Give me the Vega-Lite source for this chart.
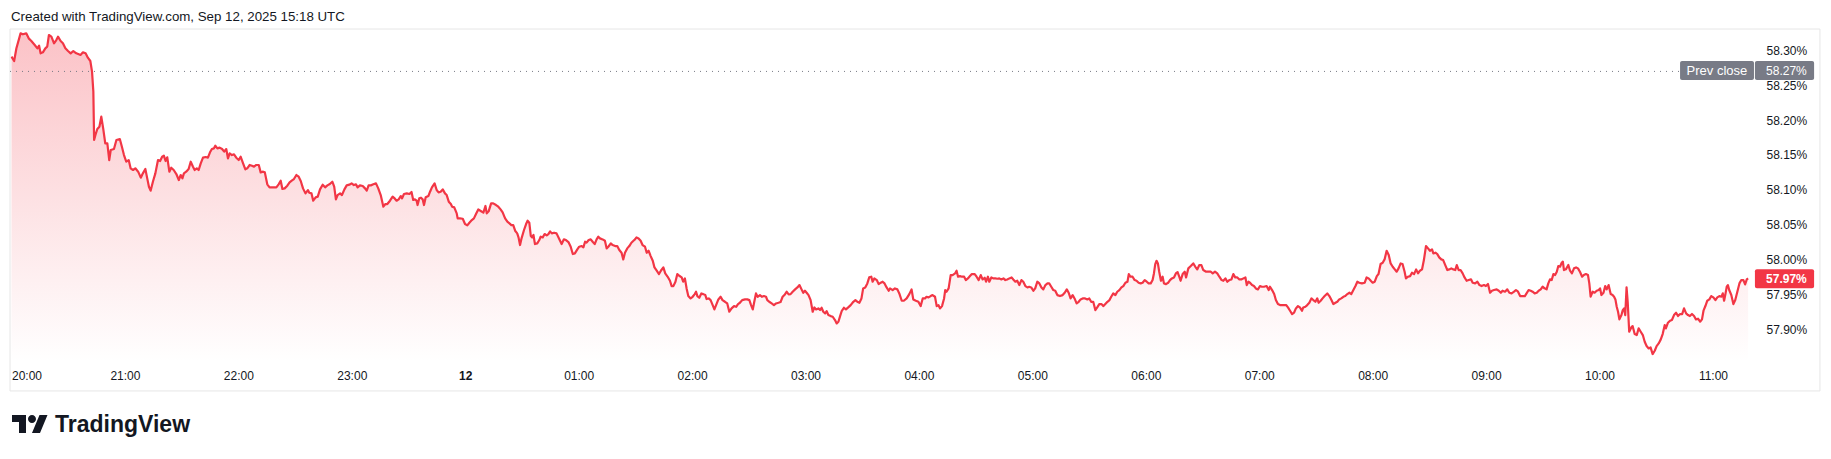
{
  "$schema": "https://vega.github.io/schema/vega-lite/v6.json",
  "width": 1745,
  "height": 332,
  "autosize": "none",
  "padding": {"left": 10, "top": 30, "right": 76, "bottom": 97},
  "background": "white",
  "config": {"view": {"stroke": null}, "font": "Liberation Sans"},
  "data": {"values": [
{"t":0,"v":58.2912},{"t":1.4,"v":58.285},{"t":2.6,"v":58.3032},{"t":4.8,"v":58.3247},{"t":6,"v":58.3233},{"t":7.8,"v":58.3247},{"t":9.1,"v":58.3175},{"t":10.5,"v":58.3137},{"t":12.3,"v":58.308},{"t":13.7,"v":58.3032},{"t":14.6,"v":58.307},{"t":15.4,"v":58.296},{"t":16.6,"v":58.2974},{"t":17.9,"v":58.3032},{"t":18.9,"v":58.3056},{"t":19.8,"v":58.3223},{"t":21.1,"v":58.3199},{"t":22.5,"v":58.3104},{"t":23.7,"v":58.3151},{"t":24.6,"v":58.3199},{"t":26,"v":58.3137},{"t":27.2,"v":58.3104},{"t":28.5,"v":58.3032},{"t":29.9,"v":58.2993},{"t":31.3,"v":58.296},{"t":32.7,"v":58.2993},{"t":34.3,"v":58.296},{"t":35.6,"v":58.2946},{"t":36.5,"v":58.2936},{"t":37.8,"v":58.2974},{"t":39.2,"v":58.296},{"t":40.4,"v":58.2898},{"t":41.7,"v":58.285},{"t":42.6,"v":58.2697},{"t":43.3,"v":58.2409},{"t":43.7,"v":58.1715},{"t":44.4,"v":58.1787},{"t":45.4,"v":58.1873},{"t":46.5,"v":58.1906},{"t":47.5,"v":58.205},{"t":48.5,"v":58.1882},{"t":49.6,"v":58.1667},{"t":50.7,"v":58.1667},{"t":51.7,"v":58.1427},{"t":52.5,"v":58.1571},{"t":54.2,"v":58.1585},{"t":55.5,"v":58.1715},{"t":57.3,"v":58.1729},{"t":58.4,"v":58.1619},{"t":59.5,"v":58.1499},{"t":60.7,"v":58.1403},{"t":62,"v":58.1427},{"t":63,"v":58.1308},{"t":64.3,"v":58.1284},{"t":65.5,"v":58.1308},{"t":67,"v":58.126},{"t":68.4,"v":58.1174},{"t":69.5,"v":58.1236},{"t":70.8,"v":58.1298},{"t":71.8,"v":58.1164},{"t":72.7,"v":58.1044},{"t":73.6,"v":58.0987},{"t":74.8,"v":58.1116},{"t":76.1,"v":58.1236},{"t":77.5,"v":58.1427},{"t":78.6,"v":58.1413},{"t":79.7,"v":58.1475},{"t":80.6,"v":58.149},{"t":81.5,"v":58.1413},{"t":82.4,"v":58.1466},{"t":83.5,"v":58.126},{"t":84.5,"v":58.1317},{"t":85.8,"v":58.1284},{"t":87.2,"v":58.1226},{"t":88.5,"v":58.114},{"t":89.5,"v":58.1212},{"t":90.4,"v":58.1164},{"t":91.2,"v":58.1236},{"t":92.4,"v":58.126},{"t":93.7,"v":58.1298},{"t":94.8,"v":58.1403},{"t":96,"v":58.1331},{"t":96.9,"v":58.1284},{"t":98,"v":58.1308},{"t":99,"v":58.1284},{"t":100.1,"v":58.1379},{"t":101.3,"v":58.1461},{"t":102.7,"v":58.147},{"t":103.9,"v":58.1461},{"t":105,"v":58.1538},{"t":106,"v":58.1585},{"t":107.1,"v":58.1595},{"t":107.8,"v":58.1633},{"t":108.9,"v":58.1595},{"t":110.1,"v":58.1605},{"t":111.4,"v":58.1585},{"t":112.5,"v":58.1547},{"t":113.6,"v":58.1585},{"t":114.5,"v":58.1451},{"t":115.4,"v":58.1523},{"t":116.6,"v":58.1499},{"t":117.7,"v":58.1509},{"t":118.9,"v":58.1461},{"t":120.2,"v":58.1427},{"t":121.2,"v":58.1475},{"t":122.5,"v":58.1379},{"t":123.7,"v":58.1293},{"t":124.7,"v":58.1308},{"t":126,"v":58.1356},{"t":127.2,"v":58.1346},{"t":128.3,"v":58.1332},{"t":129.5,"v":58.1356},{"t":130.8,"v":58.1356},{"t":131.8,"v":58.125},{"t":133.1,"v":58.126},{"t":134,"v":58.125},{"t":135.3,"v":58.1078},{"t":136.5,"v":58.1035},{"t":138.3,"v":58.1035},{"t":140.1,"v":58.1035},{"t":141.3,"v":58.1078},{"t":142.4,"v":58.113},{"t":143.3,"v":58.1011},{"t":144.5,"v":58.102},{"t":145.9,"v":58.1059},{"t":147.1,"v":58.1107},{"t":148.4,"v":58.1135},{"t":149.4,"v":58.1154},{"t":150.7,"v":58.1212},{"t":151.9,"v":58.1188},{"t":153,"v":58.1126},{"t":154.2,"v":58.102},{"t":155.5,"v":58.0948},{"t":156.8,"v":58.0996},
{"t":157.5,"v":58.0958},{"t":158.7,"v":58.0948},{"t":159.6,"v":58.0843},{"t":160.9,"v":58.0891},{"t":162,"v":58.0901},{"t":163.2,"v":58.1006},{"t":164.6,"v":58.1073},{"t":165.9,"v":58.1035},{"t":167.1,"v":58.1063},{"t":168.4,"v":58.1083},{"t":169.7,"v":58.1116},{"t":170.7,"v":58.1044},{"t":171.6,"v":58.0862},{"t":172.5,"v":58.0924},{"t":173.8,"v":58.0948},{"t":174.8,"v":58.0924},{"t":176.1,"v":58.1006},{"t":177.3,"v":58.1063},{"t":178.7,"v":58.1073},{"t":179.9,"v":58.1092},{"t":181.1,"v":58.1068},{"t":182.2,"v":58.1078},{"t":183.1,"v":58.1035},{"t":184.3,"v":58.1063},{"t":185.8,"v":58.1054},{"t":187,"v":58.102},{"t":187.9,"v":58.0987},{"t":188.9,"v":58.1063},{"t":190.1,"v":58.1063},{"t":191.4,"v":58.1078},{"t":192.8,"v":58.1092},{"t":194,"v":58.102},{"t":195.3,"v":58.0924},{"t":196.7,"v":58.0757},{"t":197.8,"v":58.0795},{"t":198.8,"v":58.0795},{"t":200.2,"v":58.0843},{"t":201.6,"v":58.0901},{"t":202.8,"v":58.0872},{"t":203.7,"v":58.0843},{"t":204.8,"v":58.0862},{"t":205.9,"v":58.091},{"t":206.6,"v":58.0877},{"t":207.6,"v":58.0939},{"t":209.1,"v":58.0948},{"t":210.5,"v":58.0939},{"t":211.6,"v":58.0968},{"t":212.5,"v":58.0853},{"t":213.4,"v":58.0862},{"t":214.3,"v":58.0843},{"t":214.8,"v":58.0781},{"t":215.7,"v":58.0877},{"t":216.6,"v":58.0886},{"t":217.5,"v":58.0862},{"t":218.2,"v":58.0781},{"t":219.1,"v":58.0891},{"t":220.5,"v":58.091},{"t":221.4,"v":58.0972},{"t":222.4,"v":58.1035},{"t":223.8,"v":58.1092},{"t":224.9,"v":58.0996},{"t":225.9,"v":58.0963},{"t":227,"v":58.0972},{"t":228.1,"v":58.1006},{"t":229.3,"v":58.0948},{"t":230.2,"v":58.0924},{"t":231.3,"v":58.0829},{"t":232.4,"v":58.0795},{"t":233.1,"v":58.0757},{"t":234.2,"v":58.0747},{"t":235.5,"v":58.0661},{"t":236,"v":58.0589},{"t":237.2,"v":58.0589},{"t":238.7,"v":58.0584},{"t":239.9,"v":58.0508},{"t":241.1,"v":58.0489},{"t":242.2,"v":58.0527},{"t":243.5,"v":58.0565},{"t":244.6,"v":58.0589},{"t":245.7,"v":58.0651},{"t":246.9,"v":58.0718},{"t":248.2,"v":58.0695},{"t":249.6,"v":58.0671},{"t":250.7,"v":58.0767},{"t":251.4,"v":58.0661},{"t":252.4,"v":58.069},{"t":253.7,"v":58.0805},{"t":254.8,"v":58.0805},{"t":256.3,"v":58.0781},{"t":257.5,"v":58.0757},{"t":258.7,"v":58.0718},{"t":259.8,"v":58.0675},{"t":261.1,"v":58.0589},{"t":262.3,"v":58.0541},{"t":263.4,"v":58.0517},{"t":264.4,"v":58.0493},{"t":265.4,"v":58.0493},{"t":266.5,"v":58.0407},{"t":267.5,"v":58.0374},{"t":268.2,"v":58.0316},{"t":269,"v":58.0206},{"t":269.8,"v":58.0302},{"t":271.1,"v":58.0422},{"t":272.2,"v":58.0508},{"t":273,"v":58.0556},{"t":273.9,"v":58.0527},{"t":274.7,"v":58.0335},{"t":275.4,"v":58.0316},{"t":276.1,"v":58.035},{"t":276.9,"v":58.022},{"t":278.1,"v":58.023},{"t":279.2,"v":58.0278},{"t":279.9,"v":58.0326},{"t":281,"v":58.0316},{"t":282,"v":58.0364},{"t":283.1,"v":58.0345},{"t":284,"v":58.0364},{"t":284.9,"v":58.0402},{"t":285.8,"v":58.0374},{"t":287,"v":58.0383},{"t":288.3,"v":58.0374},{"t":289.8,"v":58.0288},{"t":291,"v":58.022},{"t":292.2,"v":58.0288},{"t":293.3,"v":58.0278},{"t":294.6,"v":58.0249},{"t":295.8,"v":58.0182},{"t":296.9,"v":58.0077},{"t":298,"v":58.0086},{"t":299.3,"v":58.0144},{"t":300.3,"v":58.0182},{"t":301.6,"v":58.0192},{"t":302.5,"v":58.0173},{"t":303.4,"v":58.0254},{"t":304.2,"v":58.024},{"t":305.3,"v":58.0278},{"t":306.4,"v":58.0288},{"t":307.4,"v":58.0254},{"t":308.5,"v":58.022},{"t":309.5,"v":58.0288},{"t":310.4,"v":58.0326},{"t":311.3,"v":58.0302},
{"t":312.7,"v":58.0287},{"t":313.9,"v":58.0268},{"t":314.8,"v":58.0158},{"t":315.7,"v":58.0182},{"t":317,"v":58.0229},{"t":318,"v":58.0206},{"t":319.3,"v":58.0191},{"t":320.4,"v":58.0191},{"t":321.5,"v":58.0134},{"t":322.7,"v":58.0095},{"t":323.6,"v":57.9999},{"t":324.5,"v":58.0095},{"t":325.7,"v":58.0158},{"t":326.8,"v":58.0191},{"t":327.9,"v":58.0239},{"t":329,"v":58.0268},{"t":329.8,"v":58.0287},{"t":330.6,"v":58.0316},{"t":331.7,"v":58.0301},{"t":332.8,"v":58.0268},{"t":333.8,"v":58.0206},{"t":335.1,"v":58.0182},{"t":336,"v":58.0095},{"t":337,"v":58.0124},{"t":338.1,"v":58.0047},{"t":339.2,"v":57.998},{"t":340.1,"v":57.9885},{"t":341.3,"v":57.9837},{"t":342.5,"v":57.9789},{"t":343.5,"v":57.9837},{"t":344.8,"v":57.9885},{"t":345.8,"v":57.9798},{"t":347.1,"v":57.975},{"t":348.3,"v":57.9693},{"t":349.2,"v":57.9616},{"t":350.1,"v":57.9616},{"t":351.2,"v":57.9679},{"t":352.2,"v":57.9789},{"t":353.2,"v":57.9765},{"t":354.5,"v":57.9741},{"t":355.3,"v":57.9679},{"t":356.2,"v":57.9727},{"t":357.1,"v":57.9583},{"t":358,"v":57.9473},{"t":359.2,"v":57.9439},{"t":360.3,"v":57.9463},{"t":361.4,"v":57.9501},{"t":362.1,"v":57.9535},{"t":362.8,"v":57.9473},{"t":363.8,"v":57.9449},{"t":364.9,"v":57.9511},{"t":365.9,"v":57.9501},{"t":367,"v":57.9487},{"t":367.7,"v":57.943},{"t":368.8,"v":57.9439},{"t":369.8,"v":57.9415},{"t":370.9,"v":57.9343},{"t":371.8,"v":57.9281},{"t":372.7,"v":57.9343},{"t":373.9,"v":57.9425},{"t":375.1,"v":57.9463},{"t":376.1,"v":57.9415},{"t":377.4,"v":57.9391},{"t":378.6,"v":57.9367},{"t":379.7,"v":57.9248},{"t":380.9,"v":57.9296},{"t":382.2,"v":57.9329},{"t":383.3,"v":57.9319},{"t":384.3,"v":57.9358},{"t":385.3,"v":57.9377},{"t":386.5,"v":57.9415},{"t":388,"v":57.9425},{"t":389.2,"v":57.9425},{"t":390.3,"v":57.9415},{"t":391.2,"v":57.9343},{"t":392.1,"v":57.9281},{"t":392.9,"v":57.9391},{"t":393.8,"v":57.9511},{"t":394.7,"v":57.9463},{"t":395.9,"v":57.9487},{"t":396.9,"v":57.9463},{"t":398,"v":57.9473},{"t":399.1,"v":57.9463},{"t":399.8,"v":57.9415},{"t":400.8,"v":57.9391},{"t":402.1,"v":57.9367},{"t":403.3,"v":57.9343},{"t":404.4,"v":57.9367},{"t":405.7,"v":57.9377},{"t":406.8,"v":57.9387},{"t":407.9,"v":57.9463},{"t":409.1,"v":57.9497},{"t":410,"v":57.9535},{"t":411.1,"v":57.9497},{"t":412.1,"v":57.9501},{"t":413.2,"v":57.9535},{"t":414.5,"v":57.9569},{"t":415.7,"v":57.9597},{"t":416.8,"v":57.9631},{"t":417.9,"v":57.9569},{"t":418.8,"v":57.9521},{"t":419.7,"v":57.9549},{"t":420.6,"v":57.9521},{"t":421.6,"v":57.9487},{"t":422.7,"v":57.9415},{"t":423.8,"v":57.9248},{"t":424.7,"v":57.931},{"t":425.6,"v":57.9281},{"t":426.8,"v":57.9296},{"t":427.7,"v":57.9272},{"t":428.5,"v":57.9305},{"t":429.4,"v":57.9248},{"t":430.4,"v":57.9224},{"t":431.2,"v":57.9257},{"t":432.1,"v":57.92},{"t":433.3,"v":57.9185},{"t":434.4,"v":57.9176},{"t":435.6,"v":57.9128},{"t":436.5,"v":57.908},{"t":437.4,"v":57.9104},{"t":438.3,"v":57.9185},{"t":439.2,"v":57.9262},{"t":440.3,"v":57.9305},{"t":441.4,"v":57.9281},{"t":442.6,"v":57.931},{"t":443.9,"v":57.9343},{"t":445.3,"v":57.9391},{"t":446.4,"v":57.9415},{"t":447.4,"v":57.9391},{"t":448.5,"v":57.9377},{"t":449.6,"v":57.9439},{"t":450.5,"v":57.9583},{"t":451.6,"v":57.9597},{"t":452.7,"v":57.9655},{"t":453.7,"v":57.9741},{"t":454.8,"v":57.9751},{"t":455.5,"v":57.9679},{"t":456.4,"v":57.9727},{"t":457.7,"v":57.9703},{"t":458.7,"v":57.9645},{"t":459.8,"v":57.9665},{"t":460.8,"v":57.9679},{"t":461.8,"v":57.9655},{"t":462.9,"v":57.9597},{"t":464,"v":57.9549},{"t":464.7,"v":57.9583},
{"t":466.1,"v":57.9559},{"t":467.3,"v":57.9583},{"t":468.6,"v":57.9569},{"t":469.6,"v":57.9511},{"t":470.9,"v":57.9406},{"t":472,"v":57.9406},{"t":473.5,"v":57.9439},{"t":474.9,"v":57.9501},{"t":476.1,"v":57.9569},{"t":477,"v":57.9425},{"t":478.4,"v":57.9406},{"t":479.7,"v":57.9391},{"t":480.9,"v":57.9329},{"t":482,"v":57.9439},{"t":483.2,"v":57.9439},{"t":484,"v":57.9463},{"t":485.1,"v":57.9454},{"t":486.2,"v":57.9473},{"t":487.2,"v":57.9487},{"t":488.5,"v":57.9463},{"t":489.4,"v":57.9329},{"t":490.3,"v":57.9343},{"t":491.2,"v":57.9296},{"t":492.2,"v":57.9329},{"t":493.3,"v":57.9439},{"t":493.9,"v":57.9559},{"t":494.6,"v":57.9535},{"t":495.7,"v":57.9583},{"t":496.8,"v":57.9774},{"t":497.8,"v":57.9774},{"t":499.1,"v":57.9798},{"t":499.9,"v":57.9837},{"t":500.7,"v":57.9751},{"t":501.7,"v":57.976},{"t":502.8,"v":57.9751},{"t":503.9,"v":57.9751},{"t":504.8,"v":57.9703},{"t":505.9,"v":57.9727},{"t":507,"v":57.976},{"t":508,"v":57.9789},{"t":509.5,"v":57.9789},{"t":510.5,"v":57.9751},{"t":511.6,"v":57.9703},{"t":512.7,"v":57.9774},{"t":513.7,"v":57.9712},{"t":514.8,"v":57.9736},{"t":515.5,"v":57.9679},{"t":516.5,"v":57.9751},{"t":517.2,"v":57.9679},{"t":518.3,"v":57.9741},{"t":519.3,"v":57.9727},{"t":520.4,"v":57.9727},{"t":521.5,"v":57.9722},{"t":522.5,"v":57.9727},{"t":523.6,"v":57.9712},{"t":524.7,"v":57.9727},{"t":525.7,"v":57.9703},{"t":526.7,"v":57.9712},{"t":527.8,"v":57.9727},{"t":529,"v":57.9741},{"t":529.9,"v":57.9712},{"t":531,"v":57.9679},{"t":532,"v":57.9693},{"t":533.1,"v":57.9631},{"t":534.2,"v":57.9703},{"t":535.2,"v":57.9679},{"t":536.3,"v":57.9617},{"t":537.4,"v":57.9597},{"t":538.3,"v":57.9607},{"t":539.4,"v":57.9597},{"t":540.5,"v":57.9549},{"t":541.5,"v":57.9583},{"t":542.6,"v":57.9679},{"t":543.7,"v":57.9655},{"t":544.8,"v":57.9597},{"t":545.8,"v":57.9569},{"t":546.9,"v":57.9631},{"t":548,"v":57.9655},{"t":548.9,"v":57.9655},{"t":550,"v":57.9607},{"t":551.1,"v":57.9559},{"t":552.1,"v":57.9549},{"t":553.2,"v":57.9487},{"t":554.6,"v":57.9473},{"t":556,"v":57.9487},{"t":557.1,"v":57.9521},{"t":558.2,"v":57.9569},{"t":559.2,"v":57.9521},{"t":560.2,"v":57.9439},{"t":561.3,"v":57.9487},{"t":562.3,"v":57.9439},{"t":563.4,"v":57.9367},{"t":564.5,"v":57.9391},{"t":565.5,"v":57.9425},{"t":566.6,"v":57.9439},{"t":567.9,"v":57.9439},{"t":569.1,"v":57.9425},{"t":570.1,"v":57.9439},{"t":571.1,"v":57.9391},{"t":572.2,"v":57.9391},{"t":573.3,"v":57.9272},{"t":574.3,"v":57.931},{"t":575.4,"v":57.9358},{"t":576.5,"v":57.9358},{"t":577.6,"v":57.9329},{"t":578.6,"v":57.9358},{"t":579.7,"v":57.9391},{"t":580.8,"v":57.9415},{"t":581.7,"v":57.9463},{"t":582.8,"v":57.9511},{"t":583.9,"v":57.9487},{"t":584.9,"v":57.9535},{"t":586,"v":57.9559},{"t":587.1,"v":57.9597},{"t":588.1,"v":57.9617},{"t":589.2,"v":57.9664},{"t":590.3,"v":57.9679},{"t":591,"v":57.9789},{"t":591.9,"v":57.9751},{"t":593,"v":57.9751},{"t":594.1,"v":57.9703},{"t":595.1,"v":57.9693},{"t":596.2,"v":57.9664},{"t":597.3,"v":57.9655},{"t":598.3,"v":57.9664},{"t":599.4,"v":57.9703},{"t":600.5,"v":57.9679},{"t":601.5,"v":57.9655},{"t":602.6,"v":57.9655},{"t":603.6,"v":57.9703},{"t":604.3,"v":57.9798},{"t":605,"v":57.9932},{"t":605.7,"v":57.998},{"t":606.4,"v":57.9942},{"t":607.1,"v":57.9822},{"t":608,"v":57.9693},{"t":608.9,"v":57.9751},{"t":609.6,"v":57.9655},{"t":610.7,"v":57.9645},{"t":611.8,"v":57.9664},{"t":612.8,"v":57.9703},{"t":613.8,"v":57.9727},{"t":614.9,"v":57.9741},{"t":615.9,"v":57.9798},{"t":616.8,"v":57.9818},{"t":617.7,"v":57.9751},
{"t":618.4,"v":57.9693},{"t":619.5,"v":57.9789},{"t":620.6,"v":57.9823},{"t":621.3,"v":57.9741},{"t":622.5,"v":57.9871},{"t":623.8,"v":57.9904},{"t":625.1,"v":57.9942},{"t":626.2,"v":57.9894},{"t":627.2,"v":57.9856},{"t":628.3,"v":57.9918},{"t":629.4,"v":57.9918},{"t":630.4,"v":57.9847},{"t":631.9,"v":57.9823},{"t":633.1,"v":57.9823},{"t":634.4,"v":57.9823},{"t":635.4,"v":57.9799},{"t":636.6,"v":57.9823},{"t":637.8,"v":57.9799},{"t":638.9,"v":57.9751},{"t":640.1,"v":57.9703},{"t":641,"v":57.9693},{"t":642.1,"v":57.9727},{"t":643.1,"v":57.9679},{"t":644.2,"v":57.9703},{"t":645.3,"v":57.9712},{"t":646.3,"v":57.9789},{"t":647.3,"v":57.9741},{"t":648.4,"v":57.9741},{"t":649.5,"v":57.9712},{"t":650.5,"v":57.9712},{"t":651.6,"v":57.9727},{"t":652.7,"v":57.9741},{"t":653.4,"v":57.9631},{"t":654.3,"v":57.9679},{"t":655.1,"v":57.9665},{"t":656.2,"v":57.9631},{"t":657.2,"v":57.9617},{"t":658.2,"v":57.9583},{"t":659.3,"v":57.9569},{"t":660.4,"v":57.9617},{"t":661.4,"v":57.9607},{"t":662.5,"v":57.9607},{"t":663.9,"v":57.9617},{"t":665,"v":57.9559},{"t":665.7,"v":57.9607},{"t":666.8,"v":57.9559},{"t":667.9,"v":57.9502},{"t":668.8,"v":57.9416},{"t":669.9,"v":57.9358},{"t":671,"v":57.9344},{"t":672,"v":57.9344},{"t":673.1,"v":57.9344},{"t":674.2,"v":57.9344},{"t":675.2,"v":57.931},{"t":676.3,"v":57.9262},{"t":677.4,"v":57.9214},{"t":678.4,"v":57.9234},{"t":679.4,"v":57.9296},{"t":680.5,"v":57.9329},{"t":681.5,"v":57.931},{"t":682.6,"v":57.9262},{"t":683.3,"v":57.931},{"t":684.4,"v":57.932},{"t":685.4,"v":57.9344},{"t":686.5,"v":57.9377},{"t":687.6,"v":57.944},{"t":688.6,"v":57.9416},{"t":689.7,"v":57.9392},{"t":690.7,"v":57.944},{"t":691.4,"v":57.9377},{"t":692.5,"v":57.9406},{"t":693.5,"v":57.944},{"t":694.6,"v":57.9473},{"t":696,"v":57.9511},{"t":697.1,"v":57.9473},{"t":698.2,"v":57.9416},{"t":699.2,"v":57.9358},{"t":700.3,"v":57.9377},{"t":701.3,"v":57.9392},{"t":702.3,"v":57.9425},{"t":703.4,"v":57.944},{"t":704.5,"v":57.9463},{"t":705.5,"v":57.9473},{"t":706.6,"v":57.9502},{"t":707.7,"v":57.9521},{"t":708.7,"v":57.9502},{"t":709.8,"v":57.9559},{"t":710.9,"v":57.9617},{"t":711.9,"v":57.9679},{"t":712.9,"v":57.9665},{"t":714.3,"v":57.9655},{"t":715.8,"v":57.9665},{"t":716.8,"v":57.9741},{"t":717.9,"v":57.9727},{"t":719,"v":57.9693},{"t":720,"v":57.9665},{"t":721.1,"v":57.9679},{"t":722.2,"v":57.976},{"t":723.1,"v":57.9789},{"t":724.2,"v":57.9933},{"t":725.3,"v":57.9952},{"t":726.3,"v":58.0},{"t":727.4,"v":58.0124},{"t":728.5,"v":58.0062},{"t":729.5,"v":57.9942},{"t":730.6,"v":57.9894},{"t":731.7,"v":57.9856},{"t":732.7,"v":57.9823},{"t":733.7,"v":57.9871},{"t":734.8,"v":57.9942},{"t":735.8,"v":57.9933},{"t":736.9,"v":57.9823},{"t":737.6,"v":57.9727},{"t":738.7,"v":57.9751},{"t":739.8,"v":57.976},{"t":740.8,"v":57.9808},{"t":741.9,"v":57.9789},{"t":743,"v":57.9856},{"t":744,"v":57.9799},{"t":745,"v":57.9837},{"t":746.1,"v":57.9856},{"t":747.1,"v":57.999},{"t":748.2,"v":58.0191},{"t":749.3,"v":58.0158},{"t":750.3,"v":58.0124},{"t":751.4,"v":58.0144},{"t":752.1,"v":58.0086},{"t":753.2,"v":58.0096},{"t":754.2,"v":58.0076},{"t":755.2,"v":58.0029},{"t":756.3,"v":58.0},{"t":757.3,"v":57.999},{"t":758.4,"v":57.9918},{"t":759.5,"v":57.9847},{"t":760.5,"v":57.9856},{"t":761.6,"v":57.9871},{"t":762.7,"v":57.9856},{"t":763.7,"v":57.9847},{"t":764.5,"v":57.9918},{"t":765.5,"v":57.9847},{"t":766.5,"v":57.9847},{"t":767.6,"v":57.9799},{"t":768.6,"v":57.9741},{"t":769.7,"v":57.9693},{"t":770.8,"v":57.9703},
{"t":772,"v":57.9713},{"t":772.9,"v":57.9665},{"t":774.2,"v":57.9655},{"t":775.4,"v":57.9679},{"t":776.5,"v":57.9631},{"t":777.6,"v":57.9617},{"t":778.9,"v":57.9631},{"t":779.9,"v":57.9617},{"t":781,"v":57.9646},{"t":782.1,"v":57.9521},{"t":783.1,"v":57.955},{"t":784.2,"v":57.956},{"t":785.6,"v":57.9569},{"t":786.7,"v":57.955},{"t":787.8,"v":57.9521},{"t":788.7,"v":57.955},{"t":790,"v":57.9536},{"t":791.2,"v":57.9569},{"t":792.3,"v":57.9521},{"t":793.5,"v":57.9512},{"t":794.8,"v":57.9536},{"t":795.8,"v":57.956},{"t":796.9,"v":57.9536},{"t":798,"v":57.9473},{"t":799.3,"v":57.9473},{"t":800.5,"v":57.9473},{"t":801.4,"v":57.9512},{"t":802.5,"v":57.956},{"t":803.6,"v":57.955},{"t":804.6,"v":57.9536},{"t":805.7,"v":57.9512},{"t":806.8,"v":57.9521},{"t":807.8,"v":57.955},{"t":808.9,"v":57.9569},{"t":809.9,"v":57.9608},{"t":810.9,"v":57.9584},{"t":812,"v":57.9569},{"t":812.9,"v":57.9655},{"t":813.8,"v":57.9713},{"t":814.7,"v":57.9703},{"t":815.6,"v":57.9789},{"t":816.5,"v":57.9775},{"t":817.4,"v":57.9823},{"t":818.2,"v":57.9904},{"t":819.1,"v":57.9895},{"t":820,"v":57.9952},{"t":820.6,"v":57.9967},{"t":821.2,"v":57.9847},{"t":822.2,"v":57.9857},{"t":823.5,"v":57.9919},{"t":824.4,"v":57.9837},{"t":825.4,"v":57.9799},{"t":826.5,"v":57.9871},{"t":827.6,"v":57.9885},{"t":828.6,"v":57.9871},{"t":829.7,"v":57.9818},{"t":830.8,"v":57.9751},{"t":831.7,"v":57.9775},{"t":832.8,"v":57.9789},{"t":833.9,"v":57.9775},{"t":834.6,"v":57.9655},{"t":835.3,"v":57.9464},{"t":836.4,"v":57.9536},{"t":837.4,"v":57.9521},{"t":838.5,"v":57.955},{"t":839.6,"v":57.956},{"t":840.3,"v":57.9584},{"t":841,"v":57.9488},{"t":842.1,"v":57.9521},{"t":843,"v":57.9617},{"t":843.8,"v":57.9569},{"t":844.8,"v":57.9631},{"t":845.9,"v":57.9502},{"t":846.9,"v":57.9488},{"t":847.7,"v":57.9464},{"t":848.4,"v":57.9425},{"t":849.1,"v":57.932},{"t":849.8,"v":57.9248},{"t":850.5,"v":57.9138},{"t":851.6,"v":57.92},{"t":852.3,"v":57.9272},{"t":853,"v":57.9296},{"t":853.6,"v":57.92},{"t":854.3,"v":57.9598},{"t":854.9,"v":57.9392},{"t":855.7,"v":57.8961},{"t":856.8,"v":57.9023},{"t":857.5,"v":57.9042},{"t":858.6,"v":57.8928},{"t":859.7,"v":57.8913},{"t":860.7,"v":57.9009},{"t":861.8,"v":57.8961},{"t":862.9,"v":57.8913},{"t":863.9,"v":57.8817},{"t":864.9,"v":57.8755},{"t":866,"v":57.8721},{"t":867,"v":57.8736},{"t":868.1,"v":57.864},{"t":869.2,"v":57.8688},{"t":870.2,"v":57.8755},{"t":871.3,"v":57.8793},{"t":872.4,"v":57.8851},{"t":873.4,"v":57.8928},{"t":874.5,"v":57.9057},{"t":875.1,"v":57.9009},{"t":876.2,"v":57.909},{"t":877.3,"v":57.9119},{"t":878.3,"v":57.9129},{"t":879.4,"v":57.92},{"t":880.5,"v":57.9234},{"t":881.5,"v":57.9186},{"t":882.6,"v":57.9215},{"t":883.7,"v":57.9215},{"t":884.7,"v":57.9296},{"t":885.8,"v":57.9224},{"t":886.8,"v":57.92},{"t":887.8,"v":57.9186},{"t":888.9,"v":57.9215},{"t":890,"v":57.9186},{"t":891,"v":57.9138},{"t":892.1,"v":57.9148},{"t":893.2,"v":57.9105},{"t":894.2,"v":57.9138},{"t":895,"v":57.9263},{"t":896,"v":57.933},{"t":897,"v":57.9406},{"t":898.1,"v":57.9425},{"t":899.1,"v":57.9473},{"t":900.2,"v":57.9454},{"t":901.3,"v":57.9416},{"t":902.3,"v":57.9454},{"t":903.4,"v":57.9473},{"t":904.5,"v":57.9464},{"t":905.2,"v":57.9512},{"t":905.9,"v":57.9406},{"t":906.6,"v":57.9502},{"t":907.3,"v":57.9608},{"t":907.9,"v":57.9631},{"t":908.6,"v":57.956},{"t":909.7,"v":57.9488},{"t":910.8,"v":57.9358},{"t":911.8,"v":57.9416},{"t":912.9,"v":57.9536},{"t":914,"v":57.9655},{"t":915,"v":57.9703},{"t":916.1,"v":57.9703},{"t":917,"v":57.9641},{"t":917.9,"v":57.9713},{"t":918.6,"v":57.9727}
  ]},
  "layer": [
    {
      "mark": {"type": "area", "clip": false, "color": {"gradient": "linear", "x1": 0, "y1": 0, "x2": 0, "y2": 1, "stops": [{"offset": 0, "color": "rgba(242,54,69,0.3)"}, {"offset": 1, "color": "rgba(242,54,69,0)"}]}},
      "encoding": {
        "x": {"field": "t", "type": "quantitative", "scale": {"domain": [-0.79, 922.24], "nice": false, "zero": false},
          "axis": {"title": null, "values": [0, 60, 120, 180, 240, 300, 360, 420, 480, 540, 600, 660, 720, 780, 840, 900], "labelExpr": "datum.value == 240 ? '12' : (((20 + datum.value / 60) % 24) < 10 ? '0' : '') + ((20 + datum.value / 60) % 24) + ':00'", "labelFontWeight": {"condition": {"test": "datum.value == 240", "value": "bold"}, "value": "normal"}, "domain": false, "ticks": false, "grid": false, "labelPadding": 8, "labelFontSize": 12, "labelColor": "#131722", "labelFont": "Liberation Sans", "labelFlush": 5, "labelOverlap": false}},
        "y": {"field": "v", "type": "quantitative", "scale": {"domain": [57.8526, 58.3295], "nice": false, "zero": false},
          "axis": {"title": null, "orient": "right", "values": [57.9, 57.95, 58, 58.05, 58.1, 58.15, 58.2, 58.25, 58.3], "labelExpr": "format(datum.value, '.2f') + '%'", "domain": false, "ticks": false, "grid": false, "labelAlign": "left", "labelBaseline": "middle", "labelPadding": 11, "labelFontSize": 12, "labelColor": "#131722", "labelFont": "Liberation Sans", "labelOverlap": false}},
        "y2": {"datum": 57.8526}
      }
    },
    {
      "mark": {"type": "line", "color": "#f23645", "strokeWidth": 2.2, "strokeJoin": "round"},
      "encoding": {
        "x": {"field": "t", "type": "quantitative"},
        "y": {"field": "v", "type": "quantitative"}
      }
    },
    {
      "data": {"values": [{"part": "frame"}]},
      "mark": {"type": "rect", "filled": false, "stroke": "#e6e6e6", "strokeWidth": 1, "clip": false},
      "encoding": {
        "x": {"datum": -0.79, "type": "quantitative"},
        "x2": {"datum": 956.6},
        "y": {"datum": 58.3309, "type": "quantitative"},
        "y2": {"datum": 57.811}
      }
    },
    {
      "data": {"values": [{"label": "Prev close"}]},
      "mark": {"type": "rule", "color": "#787b86", "strokeWidth": 1, "strokeDash": [1, 5]},
      "encoding": {
        "x": {"datum": -0.79, "type": "quantitative"},
        "x2": {"datum": 922.24},
        "y": {"datum": 58.27, "type": "quantitative"}
      }
    },
    {
      "data": {"values": [{"label": "Prev close"}]},
      "mark": {"type": "rect", "color": "#787b86", "cornerRadius": 2, "clip": false},
      "encoding": {
        "x": {"datum": 882.6, "type": "quantitative"},
        "x2": {"datum": 921.7},
        "y": {"datum": 58.285, "type": "quantitative"},
        "y2": {"datum": 58.2577}
      }
    },
    {
      "data": {"values": [{"label": "58.27%"}]},
      "mark": {"type": "rect", "color": "#787b86", "cornerRadius": 2, "clip": false},
      "encoding": {
        "x": {"datum": 922.2, "type": "quantitative"},
        "x2": {"datum": 953.5},
        "y": {"datum": 58.285, "type": "quantitative"},
        "y2": {"datum": 58.2577}
      }
    },
    {
      "data": {"values": [{"label": "57.97%"}]},
      "mark": {"type": "rect", "color": "#f23645", "cornerRadius": 2, "clip": false},
      "encoding": {
        "x": {"datum": 922.2, "type": "quantitative"},
        "x2": {"datum": 953.5},
        "y": {"datum": 57.9858, "type": "quantitative"},
        "y2": {"datum": 57.9585}
      }
    },
    {
      "data": {"values": [{"label": "Prev close"}]},
      "mark": {"type": "text", "color": "white", "fontSize": 13, "font": "Liberation Sans", "align": "center", "baseline": "middle"},
      "encoding": {
        "x": {"datum": 902.1, "type": "quantitative"},
        "y": {"datum": 58.2713, "type": "quantitative"},
        "text": {"field": "label"}
      }
    },
    {
      "data": {"values": [{"label": "58.27%"}]},
      "mark": {"type": "text", "color": "white", "fontSize": 12, "font": "Liberation Sans", "align": "left", "baseline": "middle"},
      "encoding": {
        "x": {"datum": 928.1, "type": "quantitative"},
        "y": {"datum": 58.2713, "type": "quantitative"},
        "text": {"field": "label"}
      }
    },
    {
      "data": {"values": [{"label": "57.97%"}]},
      "mark": {"type": "text", "color": "white", "fontSize": 12, "fontWeight": "bold", "font": "Liberation Sans", "align": "left", "baseline": "middle"},
      "encoding": {
        "x": {"datum": 928.1, "type": "quantitative"},
        "y": {"datum": 57.9721, "type": "quantitative"},
        "text": {"field": "label"}
      }
    },
    {
      "data": {"values": [{"label": "Created with TradingView.com, Sep 12, 2025 15:18 UTC"}]},
      "mark": {"type": "text", "color": "#131722", "fontSize": 13.3, "font": "Liberation Sans", "align": "left", "baseline": "alphabetic"},
      "encoding": {
        "x": {"datum": -0.26, "type": "quantitative"},
        "y": {"datum": 58.3429, "type": "quantitative"},
        "text": {"field": "label"}
      }
    },
    {
      "data": {"values": [{"label": "TradingView"}]},
      "mark": {"type": "text", "color": "#131722", "fontSize": 23, "fontWeight": "bold", "font": "Liberation Sans", "align": "left", "baseline": "alphabetic"},
      "encoding": {
        "x": {"datum": 23.0, "type": "quantitative"},
        "y": {"datum": 57.7521, "type": "quantitative"},
        "text": {"field": "label"}
      }
    },
    {
      "data": {"values": [{"label": "logo"}]},
      "mark": {"type": "point", "filled": true, "color": "#131722", "opacity": 1, "size": 1296, "shape": "M-0.222,0.5H-0.611V-0.111H-1V-0.5H-0.222Z M0.556,0.5H0.111L0.528,-0.5H0.972Z M-0.111,-0.278a0.222,0.222 0 1 0 0.444 0a0.222,0.222 0 1 0 -0.444 0Z", "strokeWidth": 0},
      "encoding": {
        "x": {"datum": 9.79, "type": "quantitative"},
        "y": {"datum": 57.7636, "type": "quantitative"}
      }
    }
  ]
}
